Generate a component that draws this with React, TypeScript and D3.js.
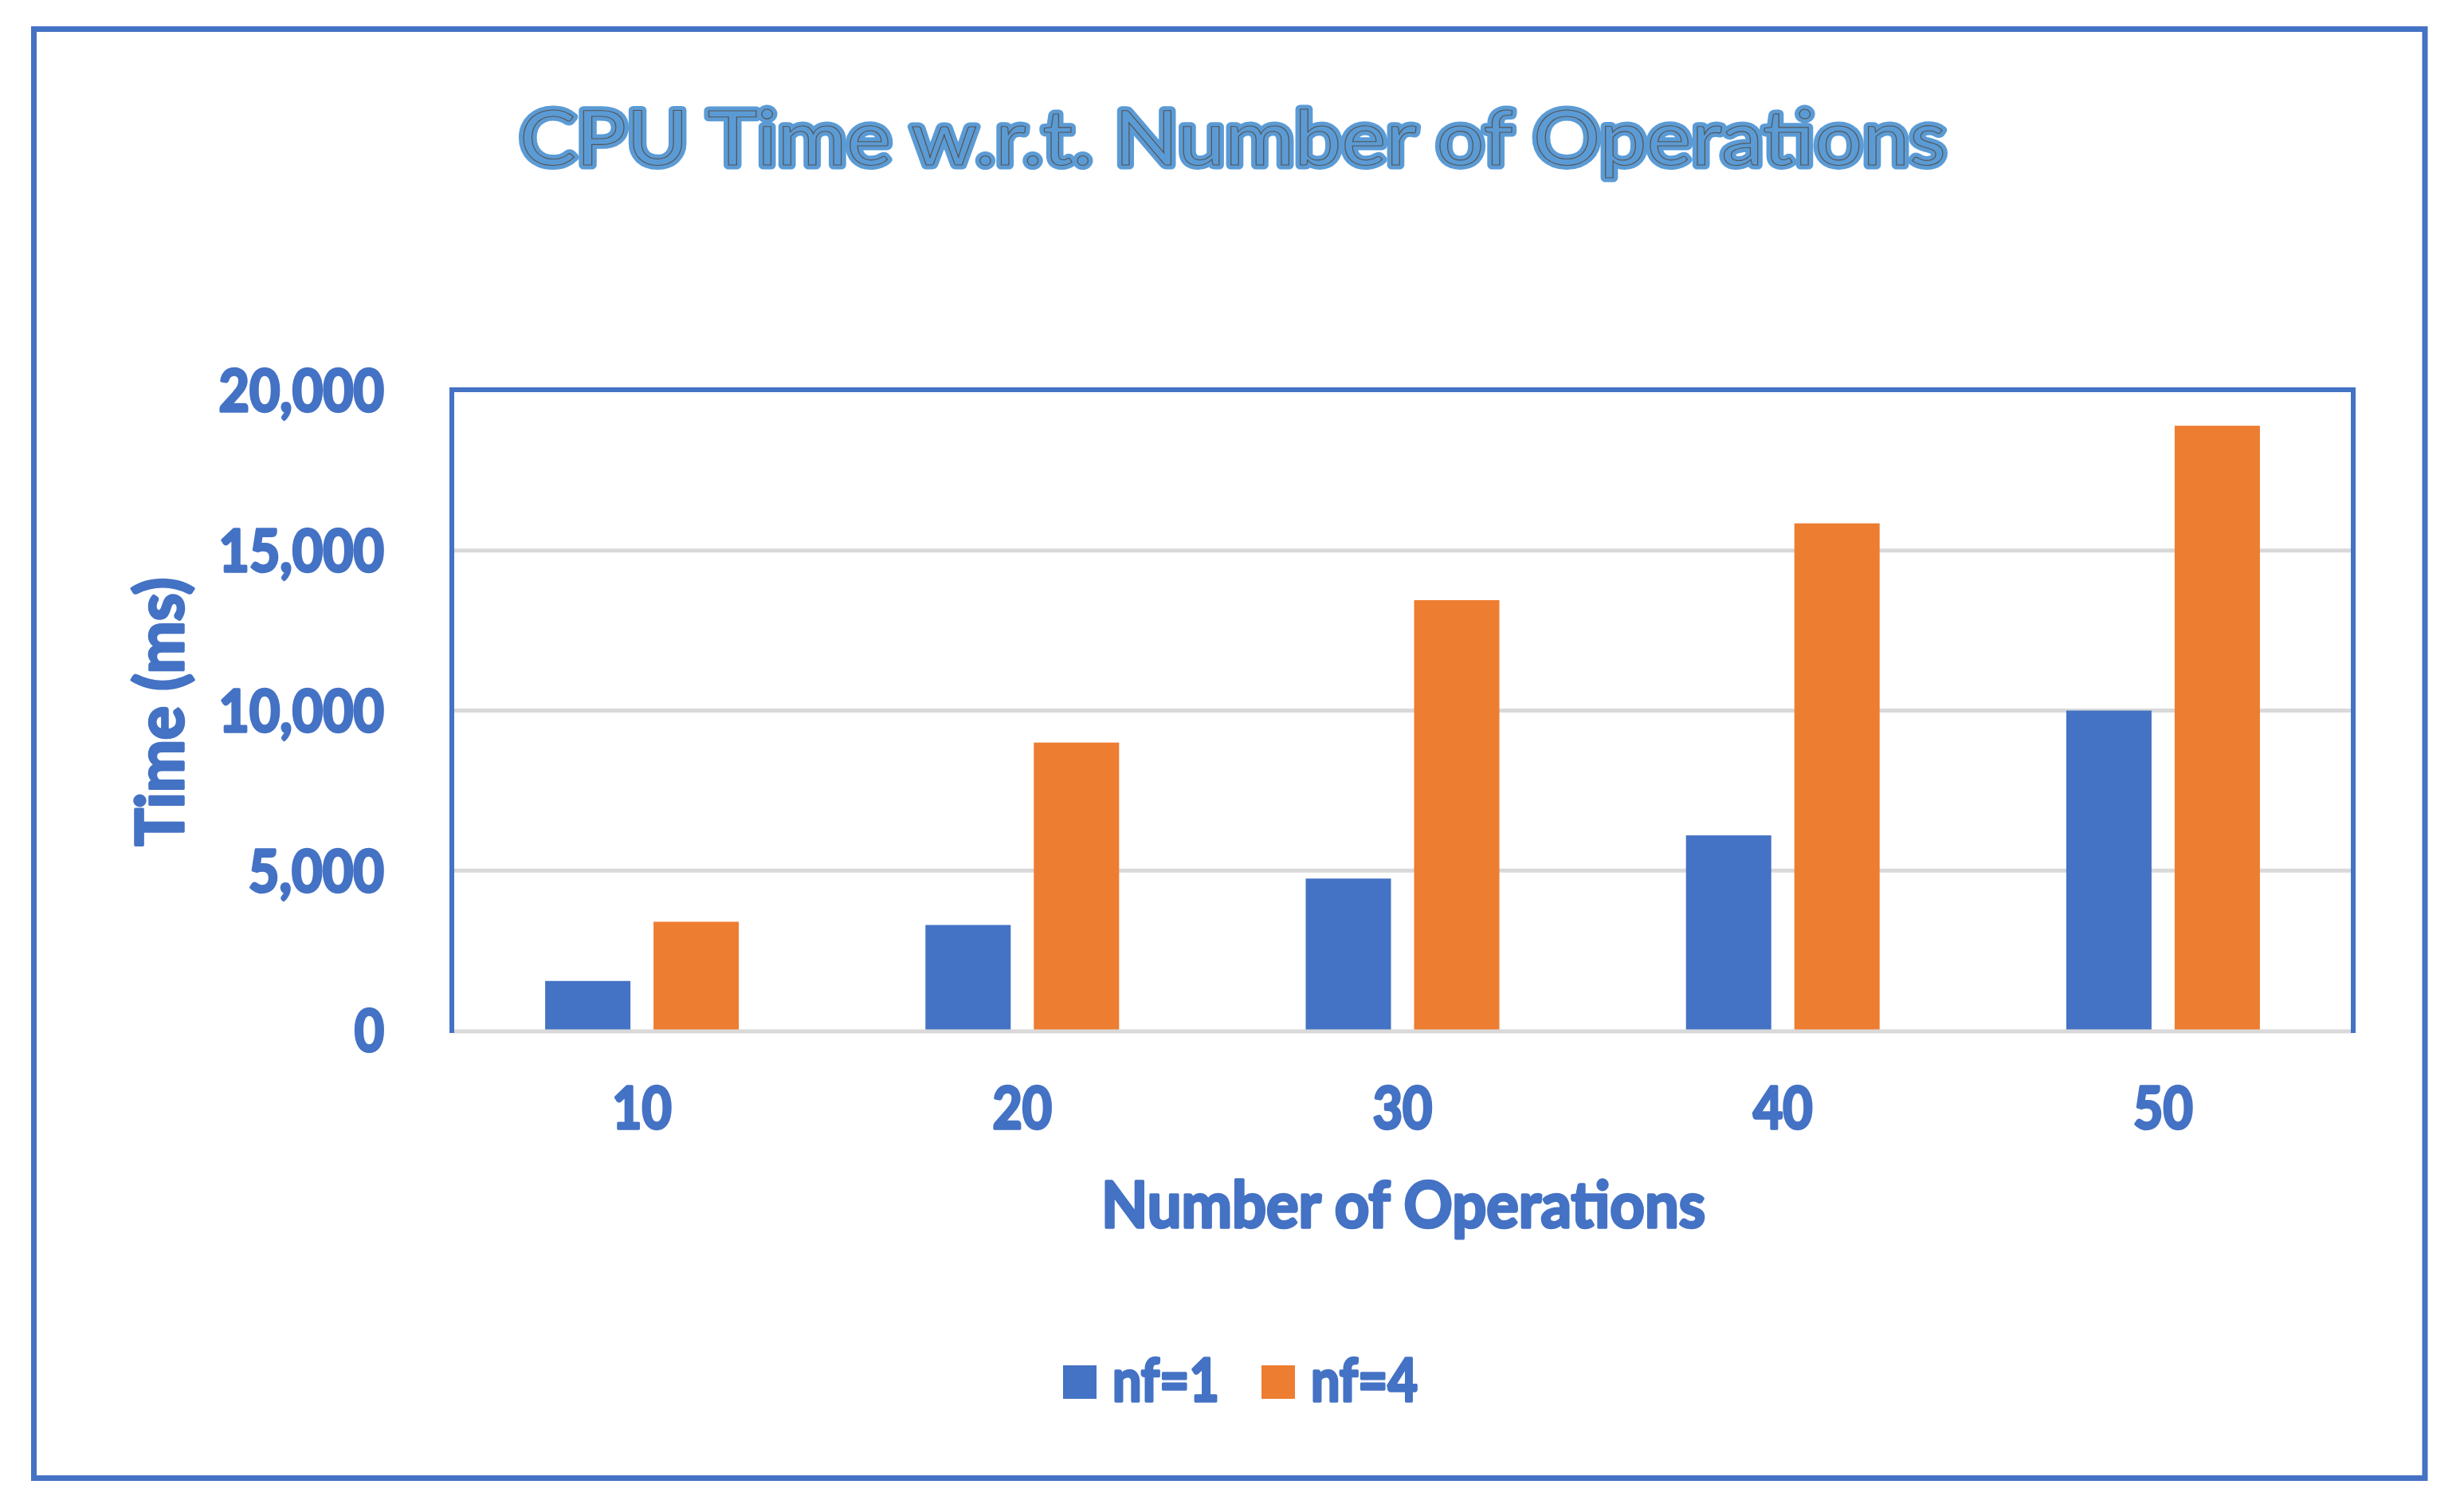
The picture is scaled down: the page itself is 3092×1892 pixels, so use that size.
import * as d3 from 'd3';

// chart data
const operations = ['10', '20', '30', '40', '50'];
const seriesNames = ['nf=1', 'nf=4'];
const nf1Times = [1550, 3300, 4750, 6100, 10000];
const nf4Times = [3400, 9000, 13450, 15850, 18900];
const yTicks = [0, 5000, 10000, 15000, 20000];

const BLUE = '#4472C4';
const ORANGE = '#ED7D31';
const TITLE = '#5B9BD5';
const GRID = '#D9D9D9';
const FONT = 'Lato, "Open Sans", sans-serif';

const W = 3092;
const H = 1892;
const plot = { left: 567, right: 2953, top: 490, bottom: 1293 };

// rough width of a numeric label, so Lato gets squeezed to the reference width
const numWidth = (s: string) => {
  let w = 0;
  for (const c of s) w += c === ',' ? 21 : 37.3;
  return w;
};

const App = () => {
  const colors = [BLUE, ORANGE];
  const values = [nf1Times, nf4Times];

  const x0 = d3.scaleBand().domain(operations).range([plot.left, plot.right]);
  const groupWidth = 243;
  const x1 = d3
    .scaleBand()
    .domain(seriesNames)
    .range([0, groupWidth])
    .paddingInner(29 / 136);
  const y = d3.scaleLinear().domain([0, 20000]).range([plot.bottom, plot.top]);
  const fmt = d3.format(',');
  const offset = (x0.bandwidth() - groupWidth) / 2;

  return (
    <svg width={W} height={H} style={{ position: 'absolute', left: 0, top: 0 }}>
      <rect x={0} y={0} width={W} height={H} fill='#fff' />
      <rect x={42.5} y={36.5} width={3000.5} height={1818} fill='none' stroke={BLUE} strokeWidth={7} />

      {/* title: light halo + thin dark outline */}
      <g fontFamily={FONT} fontWeight={400} fontSize={95}>
        <text x={1547} y={207} textAnchor='middle' textLength={1790} lengthAdjust='spacingAndGlyphs'
          fill={TITLE} stroke={TITLE} strokeWidth={11} strokeLinejoin='round'>
          CPU Time w.r.t. Number of Operations
        </text>
        <text x={1547} y={207} textAnchor='middle' textLength={1790} lengthAdjust='spacingAndGlyphs'
          fill={TITLE} stroke='#555' strokeWidth={1.1}>
          CPU Time w.r.t. Number of Operations
        </text>
      </g>

      {/* gridlines */}
      {yTicks
        .filter((t) => t > 0 && t < 20000)
        .map((t) => (
          <line key={t} x1={plot.left} x2={plot.right} y1={y(t)} y2={y(t)} stroke={GRID} strokeWidth={5} />
        ))}

      {/* bars */}
      {operations.map((op, i) => (
        <g key={op} transform={`translate(${(x0(op) ?? 0) + offset},0)`}>
          {seriesNames.map((s, j) => (
            <rect
              key={s}
              x={x1(s)}
              y={y(values[j][i])}
              width={x1.bandwidth()}
              height={y(0) - y(values[j][i])}
              fill={colors[j]}
            />
          ))}
        </g>
      ))}

      {/* axis line + plot frame */}
      <line x1={plot.left} x2={plot.right} y1={y(0) + 1} y2={y(0) + 1} stroke={GRID} strokeWidth={5} />
      <path
        d={`M${plot.left},${plot.bottom + 3}V${plot.top - 1}H${plot.right}V${plot.bottom + 3}`}
        fill='none'
        stroke={BLUE}
        strokeWidth={6}
      />

      <g fontFamily={FONT} fontWeight={700} fill={BLUE} stroke={BLUE} strokeWidth={3.5}
        strokeLinejoin='round' fontSize={73}>
        {/* y tick labels */}
        {yTicks.map((t) => (
          <text key={t} x={482} y={y(t)} dy='0.36em' textAnchor='end'
            textLength={numWidth(fmt(t))} lengthAdjust='spacingAndGlyphs'>
            {fmt(t)}
          </text>
        ))}
        {/* x tick labels */}
        {operations.map((op) => (
          <text key={op} x={(x0(op) ?? 0) + x0.bandwidth() / 2} y={1416} textAnchor='middle'
            textLength={numWidth(op)} lengthAdjust='spacingAndGlyphs'>
            {op}
          </text>
        ))}
        {/* axis titles */}
        <text x={1761} y={1540} textAnchor='middle' fontSize={80} textLength={758} lengthAdjust='spacingAndGlyphs'>
          Number of Operations
        </text>
        <text transform='translate(230,893) rotate(-90)' textAnchor='middle' fontSize={82}
          textLength={337} lengthAdjust='spacingAndGlyphs'>
          Time (ms)
        </text>
        {/* legend */}
        {seriesNames.map((s, j) => (
          <g key={s} transform={`translate(${j === 0 ? 1334 : 1583},0)`}>
            <rect x={0} y={1713} width={42} height={42} fill={colors[j]} stroke='none' />
            <text x={62} y={1758} fontSize={75} textLength={134} lengthAdjust='spacingAndGlyphs'>
              {s}
            </text>
          </g>
        ))}
      </g>
    </svg>
  );
};

export default App;
